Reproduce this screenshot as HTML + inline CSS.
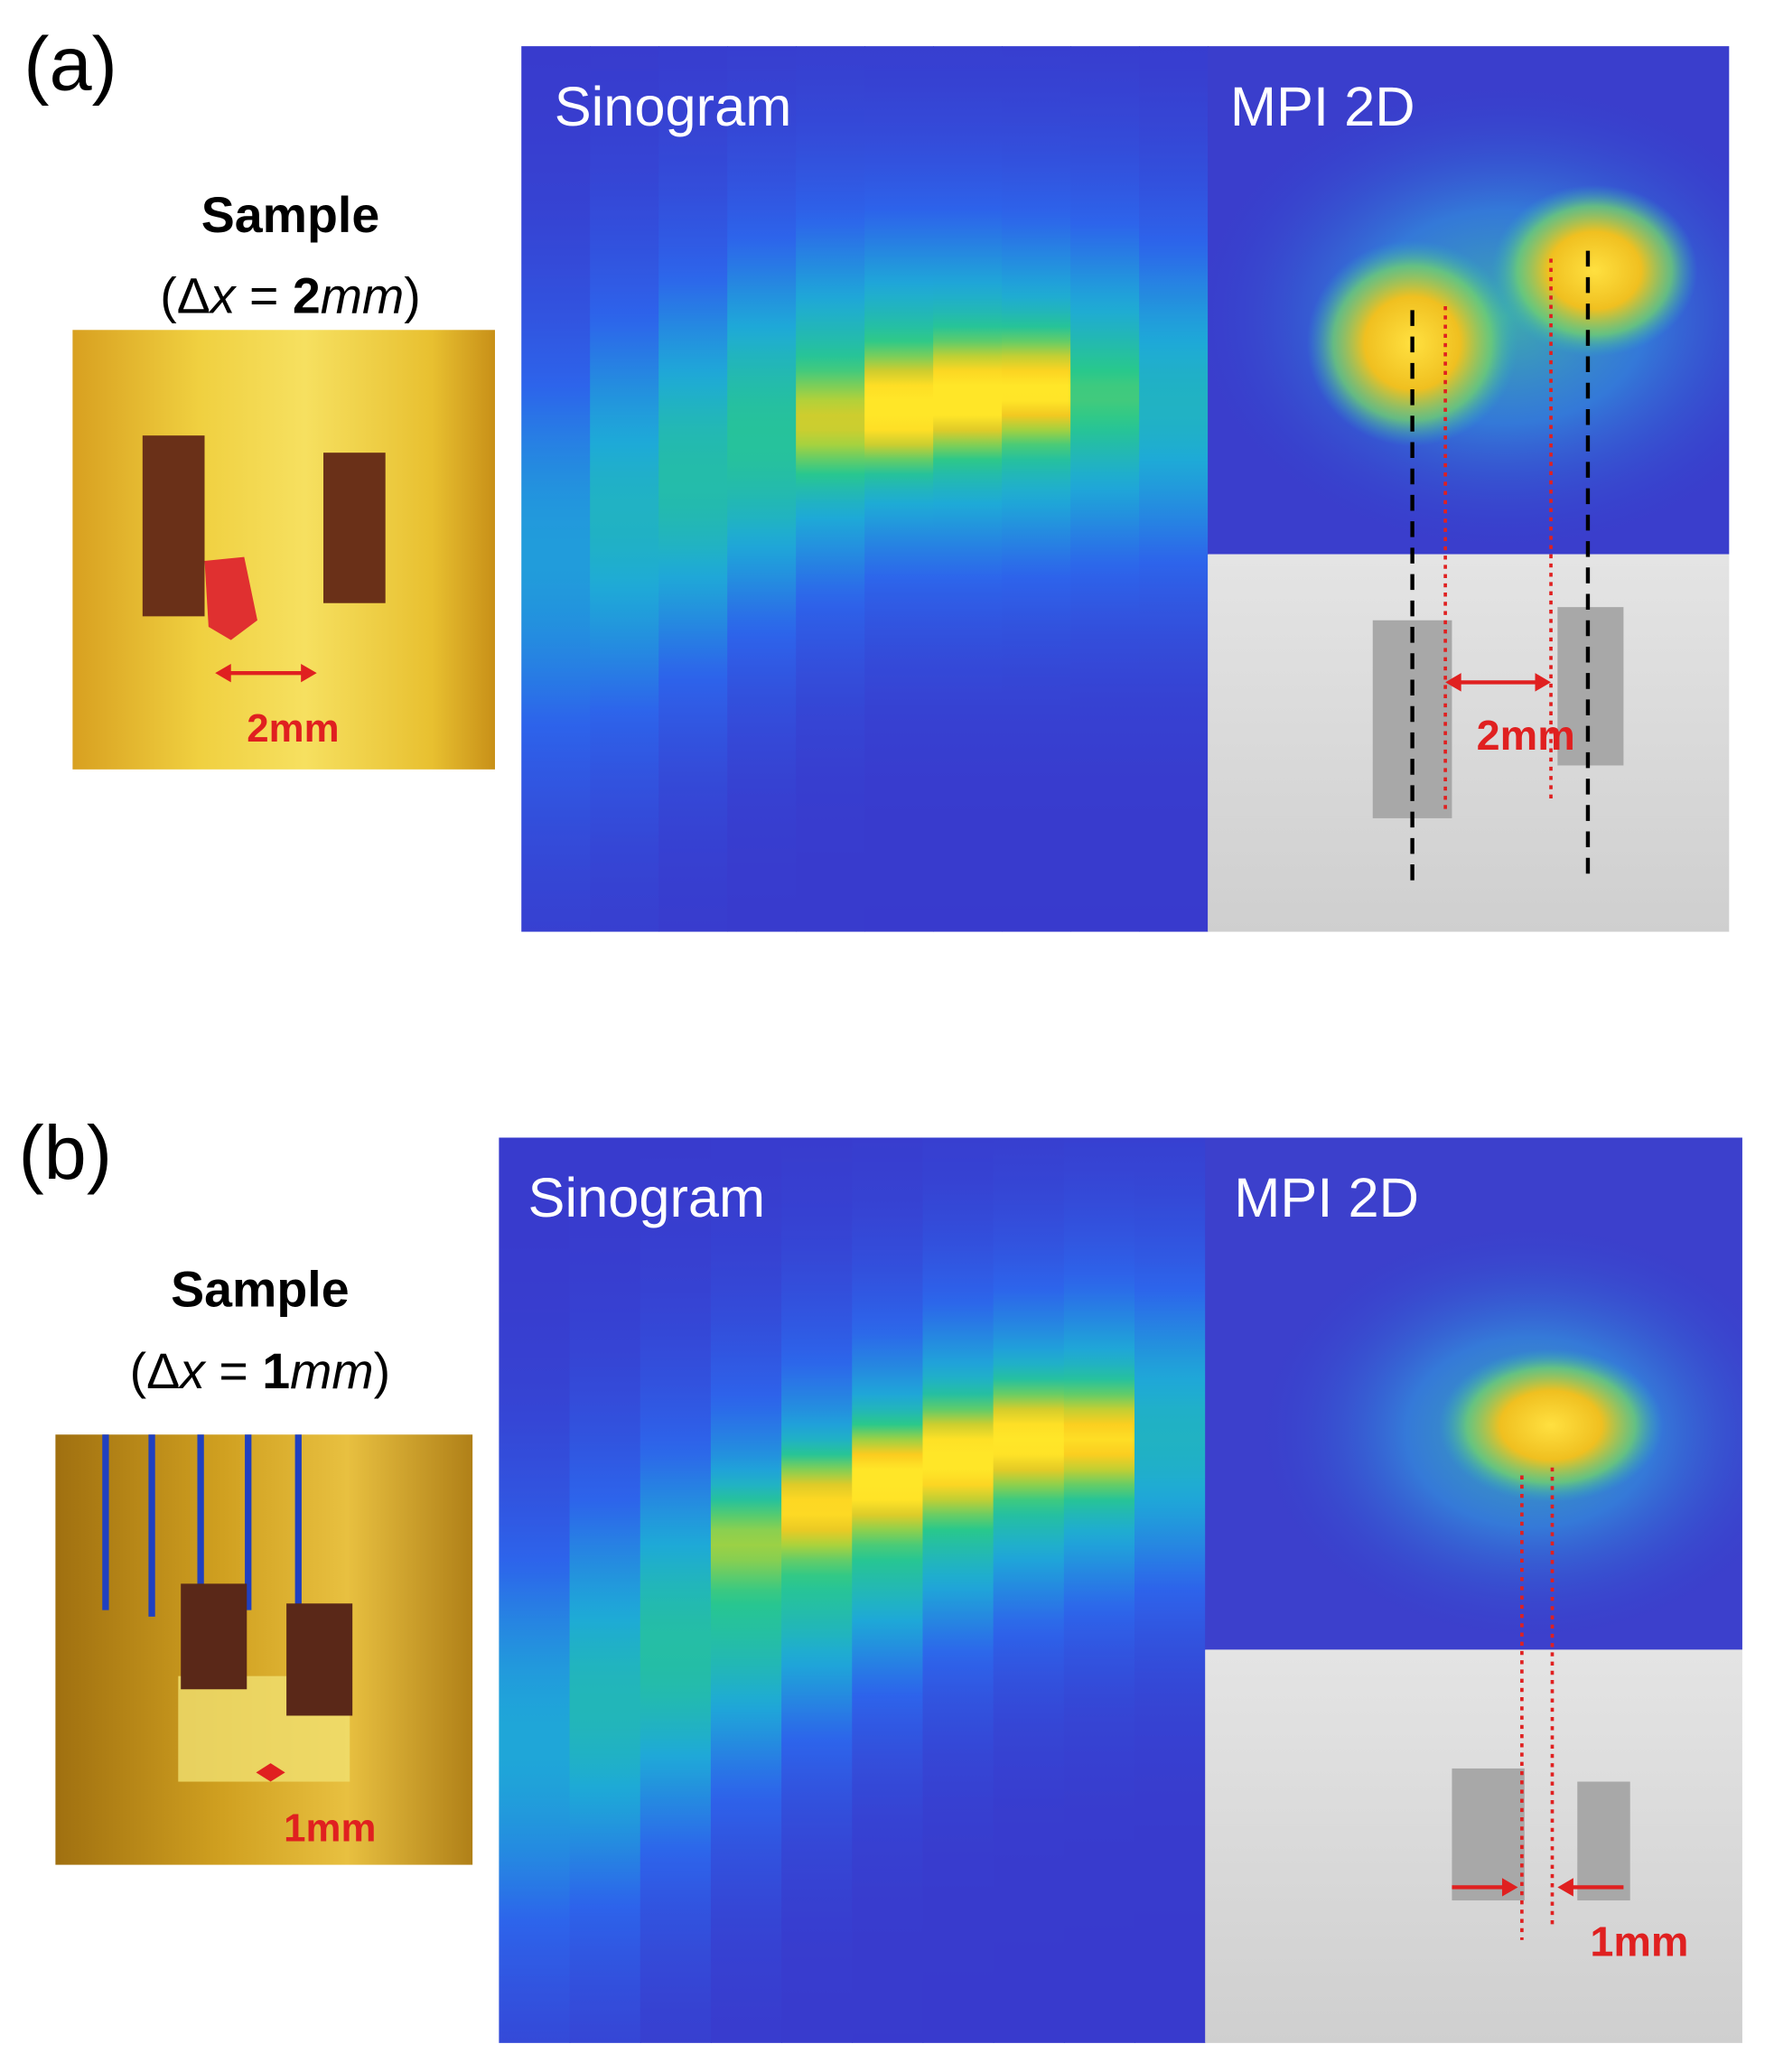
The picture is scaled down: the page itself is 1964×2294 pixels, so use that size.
<!DOCTYPE html>
<html><head><meta charset="utf-8"><style>
html,body{margin:0;padding:0;background:#fff;}
svg{display:block;}
text{font-family:"Liberation Sans","DejaVu Sans",sans-serif;}
</style></head><body>
<svg id="fig" xmlns="http://www.w3.org/2000/svg" width="1964" height="2294" viewBox="0 0 1344 1570" preserveAspectRatio="none">
<defs id="defs">
  <radialGradient id="glowCyan"><stop offset="0" stop-color="#40d0a0"/><stop offset="0.45" stop-color="#30a0e0" stop-opacity="0.8"/><stop offset="1" stop-color="#3040d0" stop-opacity="0"/></radialGradient>
  <radialGradient id="glowYel"><stop offset="0" stop-color="#ffe040"/><stop offset="0.45" stop-color="#f0c020"/><stop offset="0.75" stop-color="#70d070" stop-opacity="0.8"/><stop offset="1" stop-color="#30b0c0" stop-opacity="0"/></radialGradient>
  <linearGradient id="grayBg" x1="0" y1="0" x2="0" y2="1"><stop offset="0" stop-color="#e4e4e4"/><stop offset="1" stop-color="#cfcfcf"/></linearGradient>
  <linearGradient id="photoA" x1="0" y1="0" x2="1" y2="0"><stop offset="0" stop-color="#d8a020"/><stop offset="0.3" stop-color="#f0d040"/><stop offset="0.55" stop-color="#f6e060"/><stop offset="0.85" stop-color="#e8c030"/><stop offset="1" stop-color="#c89018"/></linearGradient>
  <linearGradient id="photoB" x1="0" y1="0" x2="1" y2="0"><stop offset="0" stop-color="#a07010"/><stop offset="0.4" stop-color="#d0a020"/><stop offset="0.7" stop-color="#e8c040"/><stop offset="1" stop-color="#b08018"/></linearGradient>
  <clipPath id="clipMA"><rect x="915" y="35" width="395" height="385"/></clipPath>
  <clipPath id="clipMB"><rect x="913" y="862" width="407" height="388"/></clipPath>
</defs>

<!-- Panel a -->
<text x="18" y="68" font-size="58">(a)</text>
<text x="220" y="176" font-size="38" font-weight="bold" text-anchor="middle">Sample</text>
<text x="220" y="237" font-size="38" text-anchor="middle" font-family="Liberation Serif, serif">(Δ<tspan font-style="italic">x</tspan> = <tspan font-weight="bold">2</tspan><tspan font-style="italic">mm</tspan>)</text>
<g>
  <rect x="55" y="250" width="320" height="333" fill="url(#photoA)"/>
  <rect x="108" y="330" width="47" height="137" fill="#6a3018"/>
  <rect x="245" y="343" width="47" height="114" fill="#6a3018"/>
  <path d="M155 425 L185 422 L195 470 L175 485 L158 475 Z" fill="#e03030"/>
  <line x1="168" y1="510" x2="235" y2="510" stroke="#e02020" stroke-width="3"/>
  <path d="M163 510 L175 503 L175 517 Z M240 510 L228 503 L228 517 Z" fill="#e02020"/>
  <text x="222" y="562" font-size="30" font-weight="bold" fill="#e02020" text-anchor="middle">2mm</text>
</g>
<g id="sinoA"></g>
<text x="420" y="95" font-size="42" fill="#fff">Sinogram</text>
<g>
  <rect x="915" y="35" width="395" height="385" fill="#3a3ecc"/>
  <g clip-path="url(#clipMA)">
    <ellipse cx="1140" cy="240" rx="240" ry="180" fill="url(#glowCyan)" opacity="0.75"/>
    <ellipse cx="1070" cy="260" rx="80" ry="78" fill="url(#glowYel)"/>
    <ellipse cx="1208" cy="205" rx="78" ry="65" fill="url(#glowYel)"/>
  </g>
  <rect x="915" y="420" width="395" height="286" fill="url(#grayBg)"/>
  <rect x="1040" y="470" width="60" height="150" fill="#a8a8a8"/>
  <rect x="1180" y="460" width="50" height="120" fill="#a8a8a8"/>
  <line x1="1070" y1="235" x2="1070" y2="672" stroke="#000" stroke-width="3" stroke-dasharray="12,8"/>
  <line x1="1203" y1="190" x2="1203" y2="662" stroke="#000" stroke-width="3" stroke-dasharray="12,8"/>
  <line x1="1095" y1="232" x2="1095" y2="615" stroke="#e02020" stroke-width="2.5" stroke-dasharray="3,4"/>
  <line x1="1175" y1="196" x2="1175" y2="605" stroke="#e02020" stroke-width="2.5" stroke-dasharray="3,4"/>
  <line x1="1100" y1="517" x2="1170" y2="517" stroke="#e02020" stroke-width="3"/>
  <path d="M1095 517 L1107 510 L1107 524 Z M1175 517 L1163 510 L1163 524 Z" fill="#e02020"/>
  <text x="1156" y="568" font-size="32" font-weight="bold" fill="#e02020" text-anchor="middle">2mm</text>
</g>
<text x="932" y="95" font-size="42" fill="#fff">MPI 2D</text>

<!-- Panel b -->
<text x="14" y="893" font-size="58">(b)</text>
<text x="197" y="990" font-size="38" font-weight="bold" text-anchor="middle">Sample</text>
<text x="197" y="1052" font-size="38" text-anchor="middle" font-family="Liberation Serif, serif">(Δ<tspan font-style="italic">x</tspan> = <tspan font-weight="bold">1</tspan><tspan font-style="italic">mm</tspan>)</text>
<g>
  <rect x="42" y="1087" width="316" height="326" fill="url(#photoB)"/>
  <rect x="135" y="1270" width="130" height="80" fill="#f0e070" opacity="0.8"/>
  <g stroke="#2040c0" stroke-width="5">
    <line x1="80" y1="1087" x2="80" y2="1220"/><line x1="115" y1="1087" x2="115" y2="1225"/>
    <line x1="152" y1="1087" x2="152" y2="1215"/><line x1="188" y1="1087" x2="188" y2="1220"/><line x1="226" y1="1087" x2="226" y2="1225"/>
  </g>
  <rect x="137" y="1200" width="50" height="80" fill="#5a2818"/>
  <rect x="217" y="1215" width="50" height="85" fill="#5a2818"/>
  <path d="M194 1343 L205 1336 L216 1343 L205 1350 Z" fill="#e02020"/>
  <text x="250" y="1395" font-size="30" font-weight="bold" fill="#e02020" text-anchor="middle">1mm</text>
</g>
<g id="sinoB"></g>
<text x="400" y="922" font-size="42" fill="#fff">Sinogram</text>
<g>
  <rect x="913" y="862" width="407" height="388" fill="#3c40cc"/>
  <g clip-path="url(#clipMB)">
    <ellipse cx="1160" cy="1085" rx="210" ry="160" fill="url(#glowCyan)" opacity="0.75"/>
    <ellipse cx="1175" cy="1080" rx="85" ry="58" fill="url(#glowYel)"/>
  </g>
  <rect x="913" y="1250" width="407" height="298" fill="url(#grayBg)"/>
  <rect x="1100" y="1340" width="55" height="100" fill="#a8a8a8"/>
  <rect x="1195" y="1350" width="40" height="90" fill="#a8a8a8"/>
  <line x1="1153" y1="1118" x2="1153" y2="1470" stroke="#e02020" stroke-width="2.5" stroke-dasharray="3,4"/>
  <line x1="1176" y1="1112" x2="1176" y2="1462" stroke="#e02020" stroke-width="2.5" stroke-dasharray="3,4"/>
  <line x1="1100" y1="1430" x2="1140" y2="1430" stroke="#e02020" stroke-width="3"/>
  <path d="M1150 1430 L1138 1423 L1138 1437 Z" fill="#e02020"/>
  <line x1="1230" y1="1430" x2="1190" y2="1430" stroke="#e02020" stroke-width="3"/>
  <path d="M1180 1430 L1192 1423 L1192 1437 Z" fill="#e02020"/>
  <text x="1242" y="1482" font-size="32" font-weight="bold" fill="#e02020" text-anchor="middle">1mm</text>
</g>
<text x="935" y="922" font-size="42" fill="#fff">MPI 2D</text>
</svg>
<script>
// sinogram column data: broad band centre/width/peak + narrow hot core centre/peak
const sinoACenters=[420,390,360,330,310,300,300,300,300,305];
const sinoAWidths=[210,210,200,190,180,170,170,170,170,170];
const sinoAPeaks=[0.42,0.5,0.55,0.58,0.6,0.62,0.62,0.6,0.56,0.5];
const sinoACoreY=[0,0,0,0,320,310,300,295,300,0];
const sinoACore=[0,0,0,0,0.22,0.42,0.42,0.38,0.08,0];
const sinoBCenters=[1320,1290,1250,1210,1175,1145,1120,1105,1095,1090];
const sinoBWidths=[210,210,200,190,180,170,165,160,160,160];
const sinoBPeaks=[0.45,0.52,0.56,0.58,0.6,0.62,0.62,0.6,0.58,0.5];
const sinoBCoreY=[0,0,0,1165,1140,1120,1105,1090,1090,0];
const sinoBCore=[0,0,0,0.2,0.36,0.42,0.42,0.4,0.36,0.05];
const NS="http://www.w3.org/2000/svg";
const defs=document.getElementById('defs');
function cmap(v){
  const s=[[0,[58,52,200]],[0.3,[45,100,235]],[0.5,[30,170,215]],[0.65,[40,200,140]],[0.8,[170,210,60]],[0.92,[250,200,30]],[1,[255,230,40]]];
  for(let i=1;i<s.length;i++){if(v<=s[i][0]){const a=s[i-1],b=s[i],t=(v-a[0])/(b[0]-a[0]);
    return 'rgb('+a[1].map((c,k)=>Math.round(c+(b[1][k]-c)*t)).join(',')+')';}}
  return 'rgb(255,230,40)';
}
function sino(gid,x0,y0,w,h,cent,wid,peak,coreY,core,pref){
  const g=document.getElementById(gid);
  const n=cent.length,cw=w/n;
  for(let i=0;i<n;i++){
    const lg=document.createElementNS(NS,'linearGradient');
    lg.id=pref+i;lg.setAttribute('gradientUnits','userSpaceOnUse');
    lg.setAttribute('x1',0);lg.setAttribute('x2',0);lg.setAttribute('y1',y0);lg.setAttribute('y2',y0+h);
    for(let k=0;k<=60;k++){
      const y=y0+h*k/60;const d=(y-cent[i])/wid[i];
      const dc=(y-coreY[i])/42;
      let v=0.04+peak[i]*Math.exp(-d*d*1.3)+core[i]*Math.exp(-dc*dc*1.5);
      v=Math.min(1,v);
      const st=document.createElementNS(NS,'stop');
      st.setAttribute('offset',k/60);st.setAttribute('stop-color',cmap(v));lg.appendChild(st);
    }
    defs.appendChild(lg);
    const r=document.createElementNS(NS,'rect');
    
    
    r.setAttribute('x',x0+i*cw);r.setAttribute('y',y0);r.setAttribute('width',cw+0.6);r.setAttribute('height',h);
    r.setAttribute('fill','url(#'+pref+i+')');g.appendChild(r);
  }
}
sino('sinoA',395,35,520,671,sinoACenters,sinoAWidths,sinoAPeaks,sinoACoreY,sinoACore,'ga');
sino('sinoB',378,862,535,686,sinoBCenters,sinoBWidths,sinoBPeaks,sinoBCoreY,sinoBCore,'gb');
</script>
</body></html>
